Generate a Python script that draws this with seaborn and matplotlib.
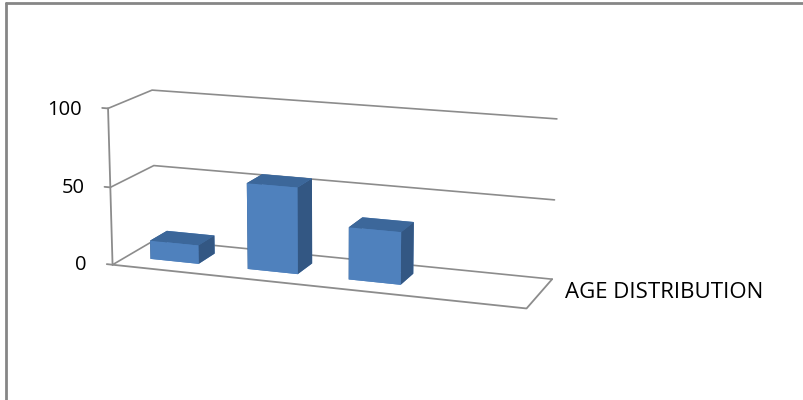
import numpy as np
import seaborn as sns
import matplotlib.pyplot as plt
from matplotlib.lines import Line2D

# data
groups = ["Group 1", "Group 2", "Group 3"]
values = [12, 55, 33]
series_name = "AGE DISTRIBUTION"
z_ticks = [0, 50, 100]

sns.set_theme(style="white")
plt.rcParams["font.family"] = ["Open Sans", "DejaVu Sans"]

GRID = "#8c8c8c"
FRONT, TOP, SIDE = "#4F81BD", "#3C679A", "#335783"

W, H = 804, 400
fig = plt.figure(figsize=(W / 100, H / 100), dpi=100)

# square 3d axes centred on the plot box
S, cx, cy = 700, 320, 197
ax = fig.add_axes([(cx - S / 2) / W, (cy - S / 2) / H, S / W, S / H],
                  projection="3d")
ax.set_proj_type("persp", focal_length=0.5)
ax.view_init(elev=14, azim=-70)
ax.set_axis_off()
ax.computed_zorder = False

xmin, xmax = -0.5, len(groups) + 0.5
ymin, ymax = 0.0, 1.0
ax.set_xlim(xmin, xmax)
ax.set_ylim(ymin, ymax)
ax.set_zlim(0, 100)
ax.set_box_aspect((4, 0.95, 1.5), zoom=0.66)

# walls: gridlines on the left and back wall
for v in z_ticks:
    ax.plot([xmin, xmin, xmax], [ymin, ymax, ymax], [v, v, v],
            color=GRID, lw=1.2, zorder=1)

# floor: front and right edges (back/left come from the 0 gridline)
ax.plot([xmin, xmax, xmax], [ymin, ymin, ymax], [0, 0, 0],
        color=GRID, lw=1.3, zorder=1)

# value axis at the front-left corner
ax.plot([xmin, xmin], [ymin, ymin], [0, 100], color=GRID, lw=1.3, zorder=1)
for v in z_ticks:
    ax.plot([xmin - 0.06, xmin], [ymin, ymin], [v, v], color=GRID, lw=1.3,
            zorder=1)
    ax.text(xmin - 0.27, ymin, v - 2, str(v), ha="right", va="center",
            fontsize=14.5, color="black")

# bars
pos = np.arange(len(groups))
bw, bd = 0.5, 0.4
faces = []
for _ in groups:
    # -z, +z, -y, +y, -x, +x
    faces += [FRONT, TOP, FRONT, FRONT, SIDE, SIDE]
bars = ax.bar3d(pos - bw / 2, np.full(len(groups), 0.32), np.zeros(len(groups)),
                bw, bd, values, color=faces, shade=False, linewidth=0)
bars.set_zorder(3)

fig.text(565 / W, 1 - 292 / H, series_name, ha="left", va="center",
         fontsize=16, color="black")

# chart border (top and left only visible in the crop)
fig.add_artist(Line2D([6 / W, 6 / W], [0, 1 - 3 / H], color="#868686", lw=2))
fig.add_artist(Line2D([6 / W, 1], [1 - 3 / H, 1 - 3 / H], color="#868686", lw=2))

fig.savefig("out.png", dpi=100)
